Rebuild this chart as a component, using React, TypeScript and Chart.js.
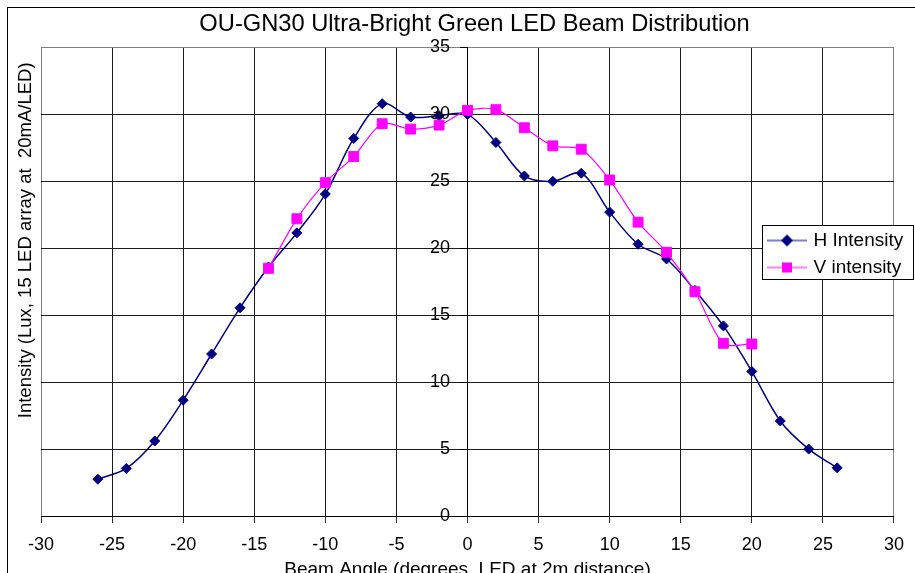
import React, { useEffect, useRef } from 'react';
import { Chart, registerables } from 'chart.js';

Chart.register(...registerables);

const TITLE = 'OU-GN30 Ultra-Bright Green LED Beam Distribution';
const X_TITLE = 'Beam Angle (degrees, LED at 2m distance)';
const Y_TITLE = 'Intensity (Lux, 15 LED array at  20mA/LED)';
const H_LABEL = 'H Intensity';
const V_LABEL = 'V intensity';

const H_ANGLES = [-26, -24, -22, -20, -18, -16, -14, -12, -10, -8, -6, -4, -2, 0, 2, 4, 6, 8, 10, 12, 14, 16, 18, 20, 22, 24, 26];
const H_VALUES = [2.75, 3.55, 5.6, 8.65, 12.1, 15.55, 18.6, 21.15, 24.05, 28.2, 30.8, 29.8, 29.9, 30.0, 27.9, 25.4, 25.0, 25.6, 22.7, 20.3, 19.2, 16.85, 14.2, 10.8, 7.1, 5.0, 3.6];

const V_ANGLES = [-14, -12, -10, -8, -6, -4, -2, 0, 2, 4, 6, 8, 10, 12, 14, 16, 18, 20];
const V_VALUES = [18.5, 22.2, 24.9, 26.85, 29.3, 28.9, 29.2, 30.3, 30.35, 29.0, 27.65, 27.4, 25.1, 21.95, 19.7, 16.75, 12.9, 12.85];

const X_MIN = -30;
const X_MAX = 30;
const X_STEP = 5;
const Y_MIN = 0;
const Y_MAX = 35;
const Y_STEP = 5;
// the value axis crosses the angle axis at 0; its labels sit just left of it
const Y_AXIS_AT = 0;
const Y_LABELS_AT = -1.23;

const FONT = "'Liberation Sans', Arial, Helvetica, sans-serif";
const H_COLOR = '#000080';
const V_COLOR = '#ff00ff';

function makeSymbol(kind: 'diamond' | 'square', color: string) {
  const c = document.createElement('canvas');
  c.width = 40;
  c.height = 14;
  const g = c.getContext('2d')!;
  g.strokeStyle = color;
  g.lineWidth = 1.2;
  g.beginPath();
  g.moveTo(0, 7);
  g.lineTo(40, 7);
  g.stroke();
  g.fillStyle = color;
  if (kind === 'diamond') {
    g.beginPath();
    g.moveTo(20, 1);
    g.lineTo(26, 7);
    g.lineTo(20, 13);
    g.lineTo(14, 7);
    g.closePath();
    g.fill();
  } else {
    g.fillRect(15, 2, 10, 10);
  }
  return c;
}

const LEGEND_BOX = { left: 754, top: 215, width: 152, height: 57 };
const Y_TITLE_INSET = 15;
const TITLE_SHIFT = 7;

const layoutPlugin = {
  id: 'layoutTweaks',
  afterLayout(chart: any) {
    const yt = chart.scales.yTitle;
    if (yt) yt.top = chart.chartArea.top + Y_TITLE_INSET;
    const tb = chart.titleBlock;
    if (tb) {
      tb.left += TITLE_SHIFT;
      tb.right += TITLE_SHIFT;
    }
    const lg = chart.legend;
    if (!lg) return;
    lg.left = LEGEND_BOX.left;
    lg.top = LEGEND_BOX.top;
    lg.right = LEGEND_BOX.left + LEGEND_BOX.width;
    lg.bottom = LEGEND_BOX.top + LEGEND_BOX.height + 40;
    lg.width = LEGEND_BOX.width;
    lg.height = LEGEND_BOX.height + 40;
    lg.draw = () => {};
  },
  afterDraw(chart: any) {
    const lg = chart.legend;
    if (!lg) return;
    const ctx = chart.ctx;
    ctx.save();
    ctx.fillStyle = '#ffffff';
    ctx.fillRect(lg.left, lg.top + 2, LEGEND_BOX.width, LEGEND_BOX.height - 2);
    ctx.strokeStyle = '#000000';
    ctx.lineWidth = 1;
    ctx.strokeRect(lg.left + 0.5, lg.top + 2.5, LEGEND_BOX.width - 1, LEGEND_BOX.height - 3);
    ctx.restore();
    Object.getPrototypeOf(lg).draw.call(lg);
  },
};

export default function App() {
  const ref = useRef<HTMLCanvasElement>(null);

  useEffect(() => {
    const canvas = ref.current;
    if (!canvas) return;
    const symbols = [makeSymbol('diamond', H_COLOR), makeSymbol('square', V_COLOR)];
    const chart = new Chart(canvas, {
      type: 'line',
      data: {
        datasets: [
          {
            label: H_LABEL,
            data: H_ANGLES.map((a, i) => ({ x: a, y: H_VALUES[i] })),
            borderColor: H_COLOR,
            backgroundColor: H_COLOR,
            borderWidth: 1.5,
            pointStyle: 'rectRot',
            pointRadius: 5,
            pointBorderWidth: 1,
            pointBackgroundColor: H_COLOR,
            pointBorderColor: H_COLOR,
            tension: 0.33,
            fill: false,
            order: 1,
            xAxisID: 'x',
            yAxisID: 'y',
          },
          {
            label: V_LABEL,
            data: V_ANGLES.map((a, i) => ({ x: a, y: V_VALUES[i] })),
            borderColor: V_COLOR,
            backgroundColor: V_COLOR,
            borderWidth: 1.2,
            pointStyle: 'rect',
            pointRadius: 7,
            pointBorderWidth: 1,
            pointBackgroundColor: V_COLOR,
            pointBorderColor: V_COLOR,
            tension: 0.3,
            fill: false,
            order: 0,
            xAxisID: 'x',
            yAxisID: 'y',
          },
        ],
      },
      options: {
        responsive: false,
        animation: false,
        events: [],
        layout: { padding: { left: 0, right: 17, top: 0, bottom: 16.6 } },
        plugins: {
          title: {
            display: true,
            fullSize: false,
            text: TITLE,
            color: '#000',
            font: { family: FONT, size: 23.7, weight: 'normal' },
            padding: { top: 2, bottom: 9 },
          },
          legend: {
            display: true,
            position: 'chartArea',
            fullSize: false,
            align: 'start',
            labels: {
              usePointStyle: true,
              pointStyleWidth: 34,
              color: '#000',
              font: { family: FONT, size: 19 },
              padding: 8,
              textAlign: 'left',
              sort: (a: any, b: any) => a.datasetIndex - b.datasetIndex,
              generateLabels: (c: any) => {
                const items = (Chart as any).defaults.plugins.legend.labels.generateLabels(c);
                return items.map((it: any) => ({ ...it, pointStyle: symbols[it.datasetIndex] }));
              },
            },
          },
          tooltip: { enabled: false },
        },
        scales: {
          x: {
            type: 'linear',
            position: 'bottom',
            min: X_MIN,
            max: X_MAX,
            afterFit: (scale: any) => {
              scale.height = 65.4;
            },
            ticks: {
              stepSize: X_STEP,
              color: '#000',
              font: { family: FONT, size: 18 },
              padding: 11,
            },
            grid: {
              color: (ctx: any) => (ctx.tick && (ctx.tick.value === X_MIN || ctx.tick.value === X_MAX) ? '#808080' : '#1a1a1a'),
              lineWidth: 1,
              tickLength: 7,
              tickColor: '#333',
            },
            border: { display: true, color: '#000', width: 1 },
            title: {
              display: true,
              text: X_TITLE,
              color: '#000',
              font: { family: FONT, size: 19 },
              padding: { top: 0, bottom: 0 },
            },
          },
          y: {
            type: 'linear',
            position: { x: Y_AXIS_AT } as any,
            min: Y_MIN,
            max: Y_MAX,
            ticks: { stepSize: Y_STEP, display: false },
            grid: {
              color: (ctx: any) => (ctx.tick && ctx.tick.value === Y_MAX ? '#808080' : '#1a1a1a'),
              lineWidth: 1,
              tickLength: 7,
              tickColor: '#000',
            },
            border: { display: true, color: '#000', width: 1 },
          },
          yLabels: {
            type: 'linear',
            position: { x: Y_LABELS_AT } as any,
            min: Y_MIN,
            max: Y_MAX,
            ticks: {
              stepSize: Y_STEP,
              color: '#000',
              font: { family: FONT, size: 18 },
              z: 2,
            },
            grid: { display: false, drawTicks: false },
            border: { display: false },
          },
          yTitle: {
            type: 'linear',
            position: 'left',
            min: Y_MIN,
            max: Y_MAX,
            ticks: { display: false },
            grid: { display: false, drawTicks: false },
            border: { display: false },
            title: {
              display: true,
              text: Y_TITLE,
              align: 'end',
              color: '#000',
              font: { family: FONT, size: 18.5 },
              padding: { top: 6.4, bottom: 4.4 },
            },
          },
        },
      } as any,
      plugins: [layoutPlugin],
    });
    return () => chart.destroy();
  }, []);

  return (
    <div
      style={{
        position: 'fixed',
        left: 7,
        top: 7,
        borderLeft: '1px solid #000',
        borderTop: '1px solid #000',
        background: '#fff',
      }}
    >
      <canvas ref={ref} width={907} height={590} style={{ display: 'block', width: 907, height: 590 }} />
    </div>
  );
}
